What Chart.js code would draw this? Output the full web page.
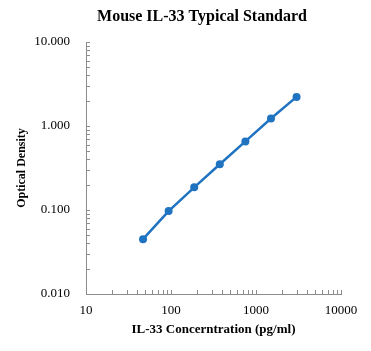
<!DOCTYPE html>
<html>
<head>
<meta charset="utf-8">
<script src="https://cdn.jsdelivr.net/npm/chart.js@4/dist/chart.umd.min.js"></script>
<style>
  html, body { margin: 0; padding: 0; background: #fff; }
  #wrap { width: 371px; height: 351px; }
</style>
</head>
<body>
<div id="wrap"><canvas id="myChart" width="371" height="351"></canvas></div>
<script>
// Standard curve data
const concentrations = [46.875, 93.75, 187.5, 375, 750, 1500, 3000];
const odValues = [0.045, 0.097, 0.186, 0.350, 0.655, 1.23, 2.22];
const xTicks = [10, 100, 1000, 10000];
const yTicks = [0.01, 0.1, 1, 10];
const chartTitle = 'Mouse IL-33 Typical Standard';

const serif = "'Liberation Serif', 'Times New Roman', serif";
const axisGrey = '#8c8c8c';
const blue = '#1f73c0';

// Draw inward tick marks (major + minor) on both log axes
const insideTicks = {
    id: 'insideTicks',
    afterDraw(chart) {
        const ctx = chart.ctx;
        const xs = chart.scales.x, ys = chart.scales.y;
        const area = chart.chartArea;
        ctx.save();
        ctx.strokeStyle = axisGrey;
        ctx.lineWidth = 1;
        ctx.beginPath();
        // x axis ticks pointing up
        for (let d = 10; d < 10000; d *= 10) {
            for (let m = 1; m <= 10; m++) {
                const px = Math.round(xs.getPixelForValue(d * m)) + 0.5;
                ctx.moveTo(px, area.bottom);
                ctx.lineTo(px, area.bottom - 4);
            }
        }
        // y axis ticks pointing right
        for (let d = 0.01; d < 10; d *= 10) {
            for (let m = 1; m <= 10; m++) {
                const py = Math.round(ys.getPixelForValue(d * m)) + 0.5;
                ctx.moveTo(area.left, py);
                ctx.lineTo(area.left + 4, py);
            }
        }
        ctx.stroke();
        ctx.restore();
    }
};

// Title sits a bit left of the plot centre in the original, so place it by hand
const topTitle = {
    id: 'topTitle',
    afterDraw(chart) {
        const ctx = chart.ctx;
        ctx.save();
        ctx.fillStyle = '#000';
        ctx.font = 'bold 16px ' + serif;
        ctx.textAlign = 'center';
        ctx.textBaseline = 'middle';
        ctx.fillText(chartTitle, 202, 17);
        ctx.restore();
    }
};

const ctx = document.getElementById('myChart').getContext('2d');
new Chart(ctx, {
    type: 'line',
    data: {
        datasets: [{
            label: 'Mouse IL-33',
            data: concentrations.map((c, i) => ({ x: c, y: odValues[i] })),
            borderColor: blue,
            backgroundColor: blue,
            borderWidth: 2.5,
            pointRadius: 4,
            pointHoverRadius: 4,
            pointBorderWidth: 0,
            tension: 0
        }]
    },
    options: {
        responsive: false,
        animation: false,
        layout: { padding: { left: 0, right: 30, top: 42, bottom: 0 } },
        scales: {
            x: {
                type: 'logarithmic',
                min: 10,
                max: 10000,
                afterBuildTicks: (scale) => { scale.ticks = xTicks.map(v => ({ value: v })); },
                afterFit: (scale) => { scale.height = 57; },
                grid: { display: false, drawTicks: false },
                border: { display: true, color: axisGrey, width: 1 },
                ticks: {
                    padding: 9,
                    color: '#000',
                    maxRotation: 0,
                    font: { family: serif, size: 13 },
                    callback: (v) => String(v)
                },
                title: {
                    display: true,
                    text: 'IL-33 Concerntration (pg/ml)',
                    color: '#000',
                    font: { family: serif, size: 13, weight: 'bold' },
                    padding: { top: 0, bottom: 14 }
                }
            },
            y: {
                type: 'logarithmic',
                min: 0.01,
                max: 10,
                afterBuildTicks: (scale) => { scale.ticks = yTicks.map(v => ({ value: v })); },
                afterFit: (scale) => { scale.width = 86; },
                grid: { display: false, drawTicks: false },
                border: { display: true, color: axisGrey, width: 1 },
                ticks: {
                    padding: 16,
                    color: '#000',
                    font: { family: serif, size: 13 },
                    callback: (v) => Number(v).toFixed(3)
                },
                title: {
                    display: true,
                    text: 'Optical Density',
                    color: '#000',
                    font: { family: serif, size: 12, weight: 'bold' },
                    padding: { top: 15, bottom: 0 }
                }
            }
        },
        plugins: {
            legend: { display: false },
            tooltip: { enabled: false },
            title: { display: false }
        }
    },
    plugins: [insideTicks, topTitle]
});
</script>
</body>
</html>
